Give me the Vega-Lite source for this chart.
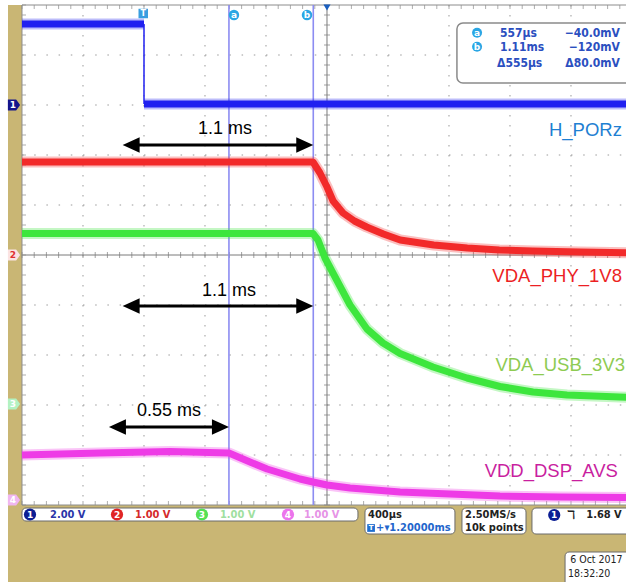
{
  "$schema": "https://vega.github.io/schema/vega-lite/v6.json",
  "width": 626,
  "height": 582,
  "padding": 0,
  "autosize": {"type": "none"},
  "background": "white",
  "config": {"view": {"stroke": null}},
  "resolve": {"scale": {"color": "independent"}},
  "datasets": {
    "bg": [{"t": -0.8918, "t2": 3.4, "v": 5.0, "v2": -7.0}],
    "screen": [{"t": -0.8, "t2": 3.4, "v": 5.0, "v2": -5.0}],
    "hgrid": [{"v": 4}, {"v": 3}, {"v": 2}, {"v": 1}, {"v": -1}, {"v": -2}, {"v": -3}, {"v": -4}],
    "vgrid": [{"t": -0.4}, {"t": 0}, {"t": 0.4}, {"t": 0.8}, {"t": 1.6}, {"t": 2.0}, {"t": 2.4}, {"t": 2.8}],
    "cross": [{"t": 1.2, "t2": 1.2, "v": 5, "v2": -5}, {"t": -0.8, "t2": 3.4, "v": 0, "v2": 0}],
    "xticks": [{"t": -0.8}, {"t": -0.72}, {"t": -0.64}, {"t": -0.56}, {"t": -0.48}, {"t": -0.4}, {"t": -0.32}, {"t": -0.24}, {"t": -0.16}, {"t": -0.08}, {"t": 0}, {"t": 0.08}, {"t": 0.16}, {"t": 0.24}, {"t": 0.32}, {"t": 0.4}, {"t": 0.48}, {"t": 0.56}, {"t": 0.64}, {"t": 0.72}, {"t": 0.8}, {"t": 0.88}, {"t": 0.96}, {"t": 1.04}, {"t": 1.12}, {"t": 1.2}, {"t": 1.28}, {"t": 1.36}, {"t": 1.44}, {"t": 1.52}, {"t": 1.6}, {"t": 1.68}, {"t": 1.76}, {"t": 1.84}, {"t": 1.92}, {"t": 2.0}, {"t": 2.08}, {"t": 2.16}, {"t": 2.24}, {"t": 2.32}, {"t": 2.4}, {"t": 2.48}, {"t": 2.56}, {"t": 2.64}, {"t": 2.72}, {"t": 2.8}, {"t": 2.88}, {"t": 2.96}, {"t": 3.04}, {"t": 3.12}],
    "yticks": [{"v": -5}, {"v": -4.8}, {"v": -4.6}, {"v": -4.4}, {"v": -4.2}, {"v": -4}, {"v": -3.8}, {"v": -3.6}, {"v": -3.4}, {"v": -3.2}, {"v": -3}, {"v": -2.8}, {"v": -2.6}, {"v": -2.4}, {"v": -2.2}, {"v": -2}, {"v": -1.8}, {"v": -1.6}, {"v": -1.4}, {"v": -1.2}, {"v": -1}, {"v": -0.8}, {"v": -0.6}, {"v": -0.4}, {"v": -0.2}, {"v": 0}, {"v": 0.2}, {"v": 0.4}, {"v": 0.6}, {"v": 0.8}, {"v": 1}, {"v": 1.2}, {"v": 1.4}, {"v": 1.6}, {"v": 1.8}, {"v": 2}, {"v": 2.2}, {"v": 2.4}, {"v": 2.6}, {"v": 2.8}, {"v": 3}, {"v": 3.2}, {"v": 3.4}, {"v": 3.6}, {"v": 3.8}, {"v": 4}, {"v": 4.2}, {"v": 4.4}, {"v": 4.6}, {"v": 4.8}, {"v": 5}],
    "cursors": [{"t": 0.557}, {"t": 1.11}],
    "traces": [
      {"ch": "1", "seg": "h", "t": -0.8, "v": 4.62}, {"ch": "1", "seg": "h", "t": 0.0, "v": 4.62},
      {"ch": "1", "seg": "l", "t": 0.0, "v": 3.02}, {"ch": "1", "seg": "l", "t": 3.3, "v": 3.02},
      {"ch": "2", "seg": "a", "t": -0.8, "v": 1.86}, {"ch": "2", "seg": "a", "t": 1.108, "v": 1.86}, {"ch": "2", "seg": "a", "t": 1.154, "v": 1.64}, {"ch": "2", "seg": "a", "t": 1.2, "v": 1.36}, {"ch": "2", "seg": "a", "t": 1.24, "v": 1.08}, {"ch": "2", "seg": "a", "t": 1.305, "v": 0.84}, {"ch": "2", "seg": "a", "t": 1.38, "v": 0.68}, {"ch": "2", "seg": "a", "t": 1.46, "v": 0.56}, {"ch": "2", "seg": "a", "t": 1.57, "v": 0.42}, {"ch": "2", "seg": "a", "t": 1.68, "v": 0.3}, {"ch": "2", "seg": "a", "t": 1.9, "v": 0.2}, {"ch": "2", "seg": "a", "t": 2.12, "v": 0.14}, {"ch": "2", "seg": "a", "t": 2.33, "v": 0.1}, {"ch": "2", "seg": "a", "t": 2.55, "v": 0.08}, {"ch": "2", "seg": "a", "t": 2.86, "v": 0.06}, {"ch": "2", "seg": "a", "t": 3.3, "v": 0.04},
      {"ch": "3", "seg": "a", "t": -0.8, "v": 0.43}, {"ch": "3", "seg": "a", "t": 1.108, "v": 0.43}, {"ch": "3", "seg": "a", "t": 1.141, "v": 0.3}, {"ch": "3", "seg": "a", "t": 1.187, "v": -0.06}, {"ch": "3", "seg": "a", "t": 1.239, "v": -0.36}, {"ch": "3", "seg": "a", "t": 1.351, "v": -1.0}, {"ch": "3", "seg": "a", "t": 1.462, "v": -1.48}, {"ch": "3", "seg": "a", "t": 1.567, "v": -1.76}, {"ch": "3", "seg": "a", "t": 1.679, "v": -1.97}, {"ch": "3", "seg": "a", "t": 1.895, "v": -2.24}, {"ch": "3", "seg": "a", "t": 2.118, "v": -2.46}, {"ch": "3", "seg": "a", "t": 2.334, "v": -2.63}, {"ch": "3", "seg": "a", "t": 2.551, "v": -2.74}, {"ch": "3", "seg": "a", "t": 2.774, "v": -2.8}, {"ch": "3", "seg": "a", "t": 3.3, "v": -2.86},
      {"ch": "4", "seg": "a", "t": -0.8, "v": -4.0}, {"ch": "4", "seg": "a", "t": -0.29, "v": -3.96}, {"ch": "4", "seg": "a", "t": 0.17, "v": -3.93}, {"ch": "4", "seg": "a", "t": 0.557, "v": -3.96}, {"ch": "4", "seg": "a", "t": 0.695, "v": -4.14}, {"ch": "4", "seg": "a", "t": 0.807, "v": -4.28}, {"ch": "4", "seg": "a", "t": 1.023, "v": -4.48}, {"ch": "4", "seg": "a", "t": 1.108, "v": -4.54}, {"ch": "4", "seg": "a", "t": 1.2, "v": -4.6}, {"ch": "4", "seg": "a", "t": 1.351, "v": -4.66}, {"ch": "4", "seg": "a", "t": 1.679, "v": -4.74}, {"ch": "4", "seg": "a", "t": 2.007, "v": -4.78}, {"ch": "4", "seg": "a", "t": 2.334, "v": -4.82}, {"ch": "4", "seg": "a", "t": 2.728, "v": -4.84}, {"ch": "4", "seg": "a", "t": 3.3, "v": -4.85}
    ],
    "edge": [{"t": 0.0, "v": 4.62, "v2": 3.02}],
    "arrows": [{"t": -0.14, "t2": 1.11, "v": 2.2}, {"t": -0.14, "t2": 1.11, "v": -1.02}, {"t": -0.23, "t2": 0.557, "v": -3.44}],
    "arrowLabels": [{"t": 0.531, "v": 2.52, "label": "1.1 ms"}, {"t": 0.557, "v": -0.72, "label": "1.1 ms"}, {"t": 0.164, "v": -3.12, "label": "0.55 ms"}],
    "names": [{"t": 3.134, "v": 2.5, "ch": "1", "label": "H_PORz"}, {"t": 3.134, "v": -0.42, "ch": "2", "label": "VDA_PHY_1V8"}, {"t": 3.154, "v": -2.2, "ch": "3", "label": "VDA_USB_3V3"}, {"t": 3.108, "v": -4.32, "ch": "4", "label": "VDD_DSP_AVS"}],
    "cursorBadges": [{"t": 0.59, "v": 4.8, "label": "a"}, {"t": 1.069, "v": 4.8, "label": "b"}],
    "trig": [{"t": -0.005, "v": 4.83, "label": "T"}],
    "centerMark": [{"t": 1.2, "v": 4.95}],
    "chMarks": [{"t": -0.8525, "v": 3.0, "ch": "1", "label": "1"}, {"t": -0.8525, "v": 0.0, "ch": "2", "label": "2"}, {"t": -0.8525, "v": -2.98, "ch": "3", "label": "3"}, {"t": -0.8525, "v": -4.9, "ch": "4", "label": "4"}],
    "readBox": [{"t": 2.052, "t2": 3.4, "v": 4.64, "v2": 3.44}],
    "readBadges": [{"t": 2.184, "v": 4.446, "label": "a"}, {"t": 2.184, "v": 4.166, "label": "b"}],
    "readLeft": [{"t": 2.334, "v": 4.446, "label": "557µs"}, {"t": 2.334, "v": 4.166, "label": "1.11ms"}, {"t": 2.315, "v": 3.846, "label": "Δ555µs"}],
    "readRight": [{"t": 3.121, "v": 4.446, "label": "−40.0mV"}, {"t": 3.121, "v": 4.166, "label": "−120mV"}, {"t": 3.121, "v": 3.846, "label": "Δ80.0mV"}],
    "boxes": [{"t": -0.8, "t2": 1.403, "v": -5.06, "v2": -5.32}, {"t": 1.449, "t2": 2.039, "v": -5.06, "v2": -5.58}, {"t": 2.085, "t2": 2.505, "v": -5.06, "v2": -5.58}, {"t": 2.544, "t2": 3.4, "v": -5.06, "v2": -5.58}, {"t": 2.761, "t2": 3.4, "v": -5.94, "v2": -7.0}],
    "chBadges": [{"t": -0.7475, "v": -5.19, "ch": "1", "label": "1"}, {"t": -0.177, "v": -5.19, "ch": "2", "label": "2"}, {"t": 0.38, "v": -5.19, "ch": "3", "label": "3"}, {"t": 0.944, "v": -5.19, "ch": "4", "label": "4"}],
    "chScale": [{"t": -0.6164, "v": -5.19, "ch": "1", "label": "2.00 V"}, {"t": -0.059, "v": -5.19, "ch": "2", "label": "1.00 V"}, {"t": 0.498, "v": -5.19, "ch": "3", "label": "1.00 V"}, {"t": 1.049, "v": -5.19, "ch": "4", "label": "1.00 V"}],
    "statusText": [{"t": 1.469, "v": -5.2, "label": "400µs"}, {"t": 2.105, "v": -5.2, "label": "2.50MS/s"}, {"t": 2.105, "v": -5.46, "label": "10k points"}, {"t": 2.9, "v": -5.2, "label": "1.68 V"}],
    "dateText": [{"t": 2.795, "v": -6.1, "label": "6 Oct 2017"}, {"t": 2.78, "v": -6.38, "label": "18:32:20"}],
    "trigOffset": [{"t": 1.489, "v": -5.46, "label": "T"}],
    "trigOffsetText": [{"t": 1.522, "v": -5.46, "label": "+▾1.20000ms"}],
    "trigBadge": [{"t": 2.69, "v": -5.2, "label": "1"}],
    "trigGlyph": [{"t": 2.8, "v": -5.2, "label": "ℸ"}]
  },
  "layer": [
    {"data": {"name": "bg"}, "mark": {"type": "rect", "color": "#c9b674"}, "encoding": {
      "x": {"field": "t", "type": "quantitative", "scale": {"domain": [-0.94426, 3.16066], "nice": false, "zero": false}, "axis": null},
      "y": {"field": "v", "type": "quantitative", "scale": {"domain": [-6.54, 5.1], "nice": false, "zero": false}, "axis": null},
      "x2": {"field": "t2"}, "y2": {"field": "v2"}}},
    {"data": {"name": "screen"}, "mark": {"type": "rect", "color": "#ffffff"}, "encoding": {
      "x": {"field": "t", "type": "quantitative", "scale": {"domain": [-0.94426, 3.16066], "nice": false, "zero": false}, "axis": null},
      "y": {"field": "v", "type": "quantitative", "scale": {"domain": [-6.54, 5.1], "nice": false, "zero": false}, "axis": null},
      "x2": {"field": "t2"}, "y2": {"field": "v2"}}},
    {"data": {"name": "hgrid"}, "mark": {"type": "rule", "color": "#9a9a9a", "strokeWidth": 1, "strokeDash": [1.5, 10.7]}, "encoding": {
      "x": {"datum": -0.8, "type": "quantitative", "axis": null}, "x2": {"datum": 3.4},
      "y": {"field": "v", "type": "quantitative", "scale": {"domain": [-6.54, 5.1], "nice": false, "zero": false}, "axis": null}}},
    {"data": {"name": "vgrid"}, "mark": {"type": "rule", "color": "#9a9a9a", "strokeWidth": 1, "strokeDash": [1.5, 8.5]}, "encoding": {
      "x": {"field": "t", "type": "quantitative", "scale": {"domain": [-0.94426, 3.16066], "nice": false, "zero": false}, "axis": null},
      "y": {"datum": 5, "type": "quantitative", "axis": null}, "y2": {"datum": -5}}},
    {"data": {"name": "cross"}, "mark": {"type": "rule", "color": "#7a7a7a", "strokeWidth": 1}, "encoding": {
      "x": {"field": "t", "type": "quantitative", "scale": {"domain": [-0.94426, 3.16066], "nice": false, "zero": false}, "axis": null},
      "y": {"field": "v", "type": "quantitative", "scale": {"domain": [-6.54, 5.1], "nice": false, "zero": false}, "axis": null},
      "x2": {"field": "t2"}, "y2": {"field": "v2"}}},
    {"data": {"name": "xticks"}, "mark": {"type": "tick", "orient": "vertical", "color": "#7a7a7a", "size": 6, "thickness": 1}, "encoding": {
      "x": {"field": "t", "type": "quantitative", "scale": {"domain": [-0.94426, 3.16066], "nice": false, "zero": false}, "axis": null},
      "y": {"datum": 0, "type": "quantitative", "axis": null}}},
    {"data": {"name": "yticks"}, "mark": {"type": "tick", "orient": "horizontal", "color": "#7a7a7a", "size": 6, "thickness": 1}, "encoding": {
      "x": {"datum": 1.2, "type": "quantitative", "axis": null},
      "y": {"field": "v", "type": "quantitative", "scale": {"domain": [-6.54, 5.1], "nice": false, "zero": false}, "axis": null}}},
    {"data": {"name": "xticks"}, "mark": {"type": "tick", "orient": "vertical", "color": "#8a8a8a", "size": 4, "thickness": 1, "yOffset": 2}, "encoding": {
      "x": {"field": "t", "type": "quantitative", "scale": {"domain": [-0.94426, 3.16066], "nice": false, "zero": false}, "axis": null},
      "y": {"datum": 5, "type": "quantitative", "axis": null}}},
    {"data": {"name": "xticks"}, "mark": {"type": "tick", "orient": "vertical", "color": "#8a8a8a", "size": 4, "thickness": 1, "yOffset": -2}, "encoding": {
      "x": {"field": "t", "type": "quantitative", "scale": {"domain": [-0.94426, 3.16066], "nice": false, "zero": false}, "axis": null},
      "y": {"datum": -5, "type": "quantitative", "axis": null}}},
    {"data": {"name": "yticks"}, "mark": {"type": "tick", "orient": "horizontal", "color": "#8a8a8a", "size": 4, "thickness": 1, "xOffset": 2}, "encoding": {
      "x": {"datum": -0.8, "type": "quantitative", "axis": null},
      "y": {"field": "v", "type": "quantitative", "scale": {"domain": [-6.54, 5.1], "nice": false, "zero": false}, "axis": null}}},
    {"data": {"name": "screen"}, "mark": {"type": "rect", "filled": false, "color": "#8c8c8c", "strokeWidth": 1}, "encoding": {
      "x": {"field": "t", "type": "quantitative", "scale": {"domain": [-0.94426, 3.16066], "nice": false, "zero": false}, "axis": null},
      "y": {"field": "v", "type": "quantitative", "scale": {"domain": [-6.54, 5.1], "nice": false, "zero": false}, "axis": null},
      "x2": {"field": "t2"}, "y2": {"field": "v2"}}},
    {"data": {"name": "cursors"}, "mark": {"type": "rule", "color": "#8c8cf2", "strokeWidth": 1.6}, "encoding": {
      "x": {"field": "t", "type": "quantitative", "scale": {"domain": [-0.94426, 3.16066], "nice": false, "zero": false}, "axis": null},
      "y": {"datum": 5, "type": "quantitative", "axis": null}, "y2": {"datum": -5}}},
    {"data": {"name": "traces"}, "mark": {"type": "line", "strokeWidth": 11, "strokeJoin": "round", "strokeCap": "butt", "opacity": 0.3}, "encoding": {
      "x": {"field": "t", "type": "quantitative", "scale": {"domain": [-0.94426, 3.16066], "nice": false, "zero": false}, "axis": null},
      "y": {"field": "v", "type": "quantitative", "scale": {"domain": [-6.54, 5.1], "nice": false, "zero": false}, "axis": null},
      "color": {"field": "ch", "type": "nominal", "scale": {"domain": ["1", "2", "3", "4"], "range": ["#2020f0", "#f22a2a", "#3de63d", "#ee3be6"]}, "legend": null}, "detail": {"field": "seg"}}},
    {"data": {"name": "traces"}, "mark": {"type": "line", "strokeWidth": 7, "strokeJoin": "round", "strokeCap": "butt"}, "encoding": {
      "x": {"field": "t", "type": "quantitative", "scale": {"domain": [-0.94426, 3.16066], "nice": false, "zero": false}, "axis": null},
      "y": {"field": "v", "type": "quantitative", "scale": {"domain": [-6.54, 5.1], "nice": false, "zero": false}, "axis": null},
      "color": {"field": "ch", "type": "nominal", "scale": {"domain": ["1", "2", "3", "4"], "range": ["#2020f0", "#f22a2a", "#3de63d", "#ee3be6"]}, "legend": null}, "detail": {"field": "seg"}}},
    {"data": {"name": "edge"}, "mark": {"type": "rule", "color": "#2020f0", "strokeWidth": 1.5}, "encoding": {
      "x": {"field": "t", "type": "quantitative", "scale": {"domain": [-0.94426, 3.16066], "nice": false, "zero": false}, "axis": null},
      "y": {"field": "v", "type": "quantitative", "scale": {"domain": [-6.54, 5.1], "nice": false, "zero": false}, "axis": null},
      "y2": {"field": "v2"}}},
    {"data": {"name": "arrows"}, "mark": {"type": "rule", "color": "#000000", "strokeWidth": 3, "xOffset": 8, "x2Offset": -8}, "encoding": {
      "x": {"field": "t", "type": "quantitative", "scale": {"domain": [-0.94426, 3.16066], "nice": false, "zero": false}, "axis": null},
      "y": {"field": "v", "type": "quantitative", "scale": {"domain": [-6.54, 5.1], "nice": false, "zero": false}, "axis": null},
      "x2": {"field": "t2"}}},
    {"data": {"name": "arrows"}, "mark": {"type": "point", "filled": true, "color": "#000000", "opacity": 1, "size": 289, "shape": "M0,0L2,-0.9L2,0.9Z"}, "encoding": {
      "x": {"field": "t", "type": "quantitative", "scale": {"domain": [-0.94426, 3.16066], "nice": false, "zero": false}, "axis": null},
      "y": {"field": "v", "type": "quantitative", "scale": {"domain": [-6.54, 5.1], "nice": false, "zero": false}, "axis": null}}},
    {"data": {"name": "arrows"}, "mark": {"type": "point", "filled": true, "color": "#000000", "opacity": 1, "size": 289, "shape": "M0,0L-2,-0.9L-2,0.9Z"}, "encoding": {
      "x": {"field": "t2", "type": "quantitative", "scale": {"domain": [-0.94426, 3.16066], "nice": false, "zero": false}, "axis": null},
      "y": {"field": "v", "type": "quantitative", "scale": {"domain": [-6.54, 5.1], "nice": false, "zero": false}, "axis": null}}},
    {"data": {"name": "arrowLabels"}, "mark": {"type": "text", "font": "Liberation Sans, Arial, sans-serif", "fontSize": 18, "color": "#000000", "align": "center", "baseline": "middle"}, "encoding": {
      "x": {"field": "t", "type": "quantitative", "scale": {"domain": [-0.94426, 3.16066], "nice": false, "zero": false}, "axis": null},
      "y": {"field": "v", "type": "quantitative", "scale": {"domain": [-6.54, 5.1], "nice": false, "zero": false}, "axis": null},
      "text": {"field": "label"}}},
    {"data": {"name": "names"}, "mark": {"type": "text", "font": "Liberation Sans, Arial, sans-serif", "fontSize": 18.5, "align": "right", "baseline": "middle"}, "encoding": {
      "x": {"field": "t", "type": "quantitative", "scale": {"domain": [-0.94426, 3.16066], "nice": false, "zero": false}, "axis": null},
      "y": {"field": "v", "type": "quantitative", "scale": {"domain": [-6.54, 5.1], "nice": false, "zero": false}, "axis": null},
      "text": {"field": "label"},
      "color": {"field": "ch", "type": "nominal", "scale": {"domain": ["1", "2", "3", "4"], "range": ["#1f80d2", "#ec1f24", "#8ecb52", "#c91f9f"]}, "legend": null}}},
    {"data": {"name": "cursorBadges"}, "mark": {"type": "point", "shape": "circle", "filled": true, "opacity": 1, "size": 110, "color": "#2aa6e4"}, "encoding": {
      "x": {"field": "t", "type": "quantitative", "scale": {"domain": [-0.94426, 3.16066], "nice": false, "zero": false}, "axis": null},
      "y": {"field": "v", "type": "quantitative", "scale": {"domain": [-6.54, 5.1], "nice": false, "zero": false}, "axis": null}}},
    {"data": {"name": "cursorBadges"}, "mark": {"type": "text", "font": "DejaVu Sans, sans-serif", "fontSize": 9, "fontWeight": "bold", "color": "#ffffff", "align": "center", "baseline": "middle"}, "encoding": {
      "x": {"field": "t", "type": "quantitative", "scale": {"domain": [-0.94426, 3.16066], "nice": false, "zero": false}, "axis": null},
      "y": {"field": "v", "type": "quantitative", "scale": {"domain": [-6.54, 5.1], "nice": false, "zero": false}, "axis": null},
      "text": {"field": "label"}}},
    {"data": {"name": "trig"}, "mark": {"type": "point", "shape": "square", "filled": true, "opacity": 1, "size": 90, "color": "#3a9ee0"}, "encoding": {
      "x": {"field": "t", "type": "quantitative", "scale": {"domain": [-0.94426, 3.16066], "nice": false, "zero": false}, "axis": null},
      "y": {"field": "v", "type": "quantitative", "scale": {"domain": [-6.54, 5.1], "nice": false, "zero": false}, "axis": null}}},
    {"data": {"name": "trig"}, "mark": {"type": "text", "font": "DejaVu Sans, sans-serif", "fontSize": 8, "fontWeight": "bold", "color": "#ffffff", "align": "center", "baseline": "middle"}, "encoding": {
      "x": {"field": "t", "type": "quantitative", "scale": {"domain": [-0.94426, 3.16066], "nice": false, "zero": false}, "axis": null},
      "y": {"field": "v", "type": "quantitative", "scale": {"domain": [-6.54, 5.1], "nice": false, "zero": false}, "axis": null},
      "text": {"field": "label"}}},
    {"data": {"name": "centerMark"}, "mark": {"type": "point", "shape": "triangle-down", "filled": true, "opacity": 1, "size": 50, "color": "#1a5fc0"}, "encoding": {
      "x": {"field": "t", "type": "quantitative", "scale": {"domain": [-0.94426, 3.16066], "nice": false, "zero": false}, "axis": null},
      "y": {"field": "v", "type": "quantitative", "scale": {"domain": [-6.54, 5.1], "nice": false, "zero": false}, "axis": null}}},
    {"data": {"name": "chMarks"}, "mark": {"type": "point", "filled": true, "opacity": 1, "size": 150, "shape": "M-1,-0.9L0.35,-0.9L1,0L0.35,0.9L-1,0.9Z"}, "encoding": {
      "x": {"field": "t", "type": "quantitative", "scale": {"domain": [-0.94426, 3.16066], "nice": false, "zero": false}, "axis": null},
      "y": {"field": "v", "type": "quantitative", "scale": {"domain": [-6.54, 5.1], "nice": false, "zero": false}, "axis": null},
      "color": {"field": "ch", "type": "nominal", "scale": {"domain": ["1", "2", "3", "4"], "range": ["#14148c", "#fbe3e3", "#b3f2c2", "#f0b6f0"]}, "legend": null}}},
    {"data": {"name": "chMarks"}, "mark": {"type": "text", "font": "DejaVu Sans, sans-serif", "fontSize": 9, "fontWeight": "bold", "align": "center", "baseline": "middle", "dx": -1}, "encoding": {
      "x": {"field": "t", "type": "quantitative", "scale": {"domain": [-0.94426, 3.16066], "nice": false, "zero": false}, "axis": null},
      "y": {"field": "v", "type": "quantitative", "scale": {"domain": [-6.54, 5.1], "nice": false, "zero": false}, "axis": null},
      "text": {"field": "label"},
      "color": {"field": "ch", "type": "nominal", "scale": {"domain": ["1", "2", "3", "4"], "range": ["#ffffff", "#e03030", "#ffffff", "#ffffff"]}, "legend": null}}},
    {"data": {"name": "readBox"}, "mark": {"type": "rect", "fill": "#ffffff", "stroke": "#8a8a8a", "strokeWidth": 1.5, "cornerRadius": 6}, "encoding": {
      "x": {"field": "t", "type": "quantitative", "scale": {"domain": [-0.94426, 3.16066], "nice": false, "zero": false}, "axis": null},
      "y": {"field": "v", "type": "quantitative", "scale": {"domain": [-6.54, 5.1], "nice": false, "zero": false}, "axis": null},
      "x2": {"field": "t2"}, "y2": {"field": "v2"}}},
    {"data": {"name": "readBadges"}, "mark": {"type": "point", "shape": "circle", "filled": true, "opacity": 1, "size": 100, "color": "#2aa6e4"}, "encoding": {
      "x": {"field": "t", "type": "quantitative", "scale": {"domain": [-0.94426, 3.16066], "nice": false, "zero": false}, "axis": null},
      "y": {"field": "v", "type": "quantitative", "scale": {"domain": [-6.54, 5.1], "nice": false, "zero": false}, "axis": null}}},
    {"data": {"name": "readBadges"}, "mark": {"type": "text", "font": "DejaVu Sans, sans-serif", "fontSize": 9, "fontWeight": "bold", "color": "#ffffff", "align": "center", "baseline": "middle"}, "encoding": {
      "x": {"field": "t", "type": "quantitative", "scale": {"domain": [-0.94426, 3.16066], "nice": false, "zero": false}, "axis": null},
      "y": {"field": "v", "type": "quantitative", "scale": {"domain": [-6.54, 5.1], "nice": false, "zero": false}, "axis": null},
      "text": {"field": "label"}}},
    {"data": {"name": "readLeft"}, "mark": {"type": "text", "font": "'Liberation Sans Narrow', 'DejaVu Sans Condensed', 'Arial Narrow', sans-serif", "fontSize": 12, "fontWeight": "bold", "color": "#2b4fc0", "align": "left", "baseline": "middle"}, "encoding": {
      "x": {"field": "t", "type": "quantitative", "scale": {"domain": [-0.94426, 3.16066], "nice": false, "zero": false}, "axis": null},
      "y": {"field": "v", "type": "quantitative", "scale": {"domain": [-6.54, 5.1], "nice": false, "zero": false}, "axis": null},
      "text": {"field": "label"}}},
    {"data": {"name": "readRight"}, "mark": {"type": "text", "font": "'Liberation Sans Narrow', 'DejaVu Sans Condensed', 'Arial Narrow', sans-serif", "fontSize": 12, "fontWeight": "bold", "color": "#2b4fc0", "align": "right", "baseline": "middle"}, "encoding": {
      "x": {"field": "t", "type": "quantitative", "scale": {"domain": [-0.94426, 3.16066], "nice": false, "zero": false}, "axis": null},
      "y": {"field": "v", "type": "quantitative", "scale": {"domain": [-6.54, 5.1], "nice": false, "zero": false}, "axis": null},
      "text": {"field": "label"}}},
    {"data": {"name": "boxes"}, "mark": {"type": "rect", "fill": "#ffffff", "stroke": "#6a6a6a", "strokeWidth": 1, "cornerRadius": 4}, "encoding": {
      "x": {"field": "t", "type": "quantitative", "scale": {"domain": [-0.94426, 3.16066], "nice": false, "zero": false}, "axis": null},
      "y": {"field": "v", "type": "quantitative", "scale": {"domain": [-6.54, 5.1], "nice": false, "zero": false}, "axis": null},
      "x2": {"field": "t2"}, "y2": {"field": "v2"}}},
    {"data": {"name": "chBadges"}, "mark": {"type": "point", "shape": "circle", "filled": true, "opacity": 1, "size": 150}, "encoding": {
      "x": {"field": "t", "type": "quantitative", "scale": {"domain": [-0.94426, 3.16066], "nice": false, "zero": false}, "axis": null},
      "y": {"field": "v", "type": "quantitative", "scale": {"domain": [-6.54, 5.1], "nice": false, "zero": false}, "axis": null},
      "color": {"field": "ch", "type": "nominal", "scale": {"domain": ["1", "2", "3", "4"], "range": ["#0c1e94", "#e02525", "#55e055", "#ec74ec"]}, "legend": null}}},
    {"data": {"name": "chBadges"}, "mark": {"type": "text", "font": "DejaVu Sans, sans-serif", "fontSize": 9, "fontWeight": "bold", "color": "#ffffff", "align": "center", "baseline": "middle"}, "encoding": {
      "x": {"field": "t", "type": "quantitative", "scale": {"domain": [-0.94426, 3.16066], "nice": false, "zero": false}, "axis": null},
      "y": {"field": "v", "type": "quantitative", "scale": {"domain": [-6.54, 5.1], "nice": false, "zero": false}, "axis": null},
      "text": {"field": "label"}}},
    {"data": {"name": "chScale"}, "mark": {"type": "text", "font": "'Liberation Sans Narrow', 'DejaVu Sans Condensed', 'Arial Narrow', sans-serif", "fontSize": 11, "fontWeight": "bold", "align": "left", "baseline": "middle"}, "encoding": {
      "x": {"field": "t", "type": "quantitative", "scale": {"domain": [-0.94426, 3.16066], "nice": false, "zero": false}, "axis": null},
      "y": {"field": "v", "type": "quantitative", "scale": {"domain": [-6.54, 5.1], "nice": false, "zero": false}, "axis": null},
      "text": {"field": "label"},
      "color": {"field": "ch", "type": "nominal", "scale": {"domain": ["1", "2", "3", "4"], "range": ["#2a35a8", "#d42a2a", "#9fe09f", "#e693e6"]}, "legend": null}}},
    {"data": {"name": "statusText"}, "mark": {"type": "text", "font": "'Liberation Sans Narrow', 'DejaVu Sans Condensed', 'Arial Narrow', sans-serif", "fontSize": 11, "fontWeight": "bold", "color": "#222222", "align": "left", "baseline": "middle"}, "encoding": {
      "x": {"field": "t", "type": "quantitative", "scale": {"domain": [-0.94426, 3.16066], "nice": false, "zero": false}, "axis": null},
      "y": {"field": "v", "type": "quantitative", "scale": {"domain": [-6.54, 5.1], "nice": false, "zero": false}, "axis": null},
      "text": {"field": "label"}}},
    {"data": {"name": "dateText"}, "mark": {"type": "text", "font": "'Liberation Sans Narrow', 'DejaVu Sans Condensed', 'Arial Narrow', sans-serif", "fontSize": 10.5, "color": "#222222", "align": "left", "baseline": "middle"}, "encoding": {
      "x": {"field": "t", "type": "quantitative", "scale": {"domain": [-0.94426, 3.16066], "nice": false, "zero": false}, "axis": null},
      "y": {"field": "v", "type": "quantitative", "scale": {"domain": [-6.54, 5.1], "nice": false, "zero": false}, "axis": null},
      "text": {"field": "label"}}},
    {"data": {"name": "trigOffset"}, "mark": {"type": "point", "shape": "square", "filled": true, "opacity": 1, "size": 60, "color": "#1f6fd0"}, "encoding": {
      "x": {"field": "t", "type": "quantitative", "scale": {"domain": [-0.94426, 3.16066], "nice": false, "zero": false}, "axis": null},
      "y": {"field": "v", "type": "quantitative", "scale": {"domain": [-6.54, 5.1], "nice": false, "zero": false}, "axis": null}}},
    {"data": {"name": "trigOffset"}, "mark": {"type": "text", "font": "DejaVu Sans, sans-serif", "fontSize": 7, "fontWeight": "bold", "color": "#ffffff", "align": "center", "baseline": "middle"}, "encoding": {
      "x": {"field": "t", "type": "quantitative", "scale": {"domain": [-0.94426, 3.16066], "nice": false, "zero": false}, "axis": null},
      "y": {"field": "v", "type": "quantitative", "scale": {"domain": [-6.54, 5.1], "nice": false, "zero": false}, "axis": null},
      "text": {"field": "label"}}},
    {"data": {"name": "trigOffsetText"}, "mark": {"type": "text", "font": "'Liberation Sans Narrow', 'DejaVu Sans Condensed', 'Arial Narrow', sans-serif", "fontSize": 11, "fontWeight": "bold", "color": "#2266cc", "align": "left", "baseline": "middle"}, "encoding": {
      "x": {"field": "t", "type": "quantitative", "scale": {"domain": [-0.94426, 3.16066], "nice": false, "zero": false}, "axis": null},
      "y": {"field": "v", "type": "quantitative", "scale": {"domain": [-6.54, 5.1], "nice": false, "zero": false}, "axis": null},
      "text": {"field": "label"}}},
    {"data": {"name": "trigBadge"}, "mark": {"type": "point", "shape": "circle", "filled": true, "opacity": 1, "size": 150, "color": "#0c1e94"}, "encoding": {
      "x": {"field": "t", "type": "quantitative", "scale": {"domain": [-0.94426, 3.16066], "nice": false, "zero": false}, "axis": null},
      "y": {"field": "v", "type": "quantitative", "scale": {"domain": [-6.54, 5.1], "nice": false, "zero": false}, "axis": null}}},
    {"data": {"name": "trigBadge"}, "mark": {"type": "text", "font": "DejaVu Sans, sans-serif", "fontSize": 9, "fontWeight": "bold", "color": "#ffffff", "align": "center", "baseline": "middle"}, "encoding": {
      "x": {"field": "t", "type": "quantitative", "scale": {"domain": [-0.94426, 3.16066], "nice": false, "zero": false}, "axis": null},
      "y": {"field": "v", "type": "quantitative", "scale": {"domain": [-6.54, 5.1], "nice": false, "zero": false}, "axis": null},
      "text": {"field": "label"}}},
    {"data": {"name": "trigGlyph"}, "mark": {"type": "text", "font": "DejaVu Sans, sans-serif", "fontSize": 12, "fontWeight": "bold", "color": "#222222", "align": "center", "baseline": "middle"}, "encoding": {
      "x": {"field": "t", "type": "quantitative", "scale": {"domain": [-0.94426, 3.16066], "nice": false, "zero": false}, "axis": null},
      "y": {"field": "v", "type": "quantitative", "scale": {"domain": [-6.54, 5.1], "nice": false, "zero": false}, "axis": null},
      "text": {"field": "label"}}}
  ]
}
